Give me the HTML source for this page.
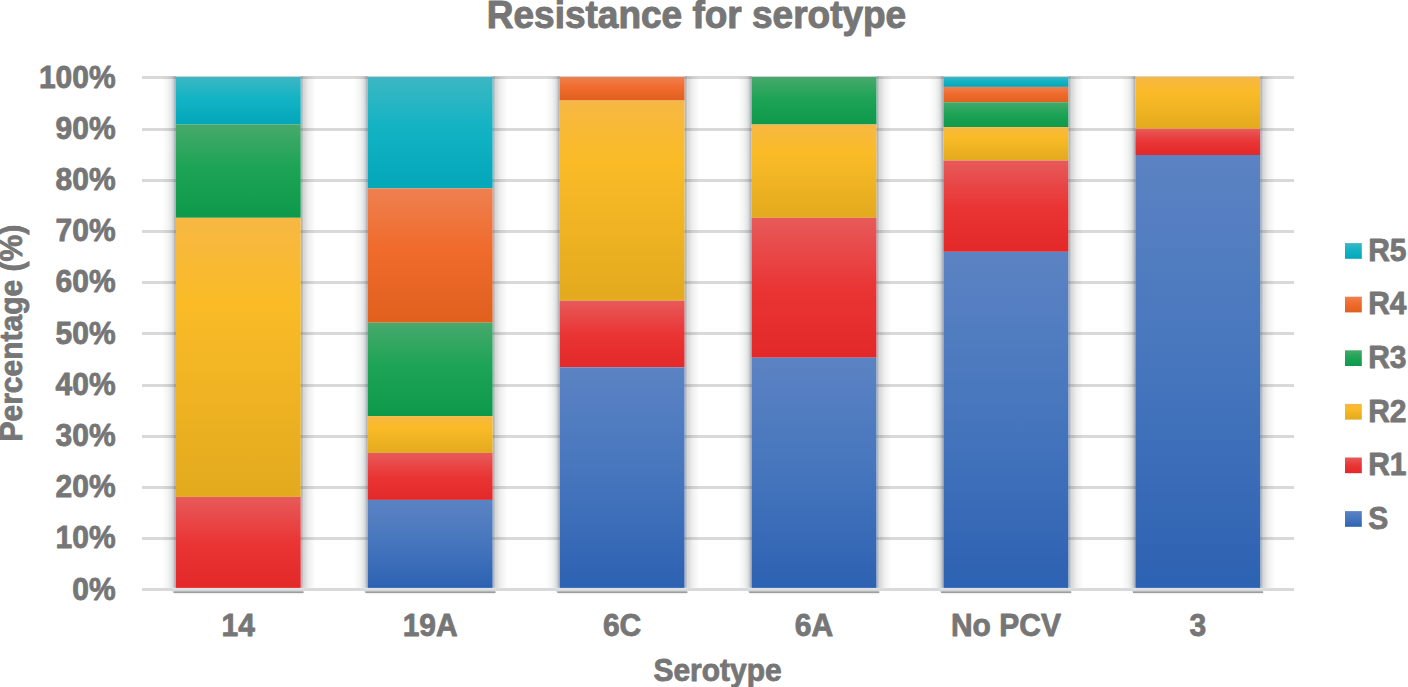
<!DOCTYPE html>
<html><head><meta charset="utf-8"><style>
html,body{margin:0;padding:0;background:#fff;}
body{width:1408px;height:687px;overflow:hidden;position:relative;}
svg{position:absolute;left:0;top:0;}
text{font-family:"Liberation Sans",sans-serif;font-weight:bold;fill:#767676;stroke:#767676;stroke-width:0.8px;stroke-linejoin:round;}
</style></head><body>
<svg width="1408" height="687" viewBox="0 0 1408 687">
<defs>
<linearGradient id="gR5" x1="0" y1="0" x2="0" y2="1"><stop offset="0" stop-color="#3cb7c3"/><stop offset="0.45" stop-color="#13b3c4"/><stop offset="1" stop-color="#02a7b9"/></linearGradient>
<linearGradient id="gR4" x1="0" y1="0" x2="0" y2="1"><stop offset="0" stop-color="#ee8050"/><stop offset="0.45" stop-color="#f06b2c"/><stop offset="1" stop-color="#e0601e"/></linearGradient>
<linearGradient id="gR3" x1="0" y1="0" x2="0" y2="1"><stop offset="0" stop-color="#47a96c"/><stop offset="0.45" stop-color="#1ea456"/><stop offset="1" stop-color="#0e994a"/></linearGradient>
<linearGradient id="gR2" x1="0" y1="0" x2="0" y2="1"><stop offset="0" stop-color="#f7b844"/><stop offset="0.3" stop-color="#fabb27"/><stop offset="1" stop-color="#e3aa1e"/></linearGradient>
<linearGradient id="gR1" x1="0" y1="0" x2="0" y2="1"><stop offset="0" stop-color="#e75a5a"/><stop offset="0.5" stop-color="#ea3535"/><stop offset="1" stop-color="#e32828"/></linearGradient>
<linearGradient id="gS" x1="0" y1="0" x2="0" y2="1"><stop offset="0" stop-color="#5b83c3"/><stop offset="0.45" stop-color="#4877be"/><stop offset="1" stop-color="#2d62b2"/></linearGradient>
<linearGradient id="shL" x1="0" y1="0" x2="1" y2="0"><stop offset="0" stop-color="#202830" stop-opacity="0"/><stop offset="0.43" stop-color="#202830" stop-opacity="0.05"/><stop offset="0.68" stop-color="#202830" stop-opacity="0.12"/><stop offset="0.83" stop-color="#302830" stop-opacity="0.22"/><stop offset="0.9" stop-color="#283648" stop-opacity="0.34"/><stop offset="1" stop-color="#283648" stop-opacity="0.40"/></linearGradient>
<linearGradient id="shR" x1="0" y1="0" x2="1" y2="0"><stop offset="0" stop-color="#405468" stop-opacity="0.45"/><stop offset="0.1" stop-color="#484c50" stop-opacity="0.38"/><stop offset="0.2" stop-color="#405868" stop-opacity="0.22"/><stop offset="0.3" stop-color="#000" stop-opacity="0.13"/><stop offset="0.55" stop-color="#000" stop-opacity="0.06"/><stop offset="1" stop-color="#000" stop-opacity="0"/></linearGradient>
<linearGradient id="band" x1="0" y1="0" x2="0" y2="1"><stop offset="0" stop-color="#e2e2e4"/><stop offset="0.5" stop-color="#dcdede"/><stop offset="1" stop-color="#c2c9ce"/></linearGradient>
<linearGradient id="bsh" x1="0" y1="0" x2="0" y2="1"><stop offset="0" stop-color="#000" stop-opacity="0.30"/><stop offset="0.35" stop-color="#000" stop-opacity="0.42"/><stop offset="1" stop-color="#000" stop-opacity="0"/></linearGradient>
</defs>
<rect x="142" y="588" width="1152" height="3" fill="#d9d9d9"/>
<rect x="142" y="537" width="1152" height="3" fill="#d9d9d9"/>
<rect x="142" y="486" width="1152" height="3" fill="#d9d9d9"/>
<rect x="142" y="435" width="1152" height="3" fill="#d9d9d9"/>
<rect x="142" y="384" width="1152" height="3" fill="#d9d9d9"/>
<rect x="142" y="332" width="1152" height="3" fill="#d9d9d9"/>
<rect x="142" y="281" width="1152" height="3" fill="#d9d9d9"/>
<rect x="142" y="230" width="1152" height="3" fill="#d9d9d9"/>
<rect x="142" y="179" width="1152" height="3" fill="#d9d9d9"/>
<rect x="142" y="128" width="1152" height="3" fill="#d9d9d9"/>
<rect x="142" y="76" width="1152" height="3" fill="#d9d9d9"/>
<rect x="161.90" y="76.30" width="14" height="511.60" fill="url(#shL)"/>
<rect x="300.70" y="76.30" width="15" height="511.60" fill="url(#shR)"/>
<rect x="172.40" y="587.90" width="131.30" height="3.9" fill="url(#band)"/>
<rect x="173.40" y="591.60" width="130.30" height="2.2" fill="url(#bsh)" rx="1"/>
<rect x="175.90" y="76.90" width="124.80" height="47.40" fill="url(#gR5)"/>
<rect x="175.90" y="124.30" width="124.80" height="93.50" fill="url(#gR3)"/>
<rect x="175.90" y="217.80" width="124.80" height="279.10" fill="url(#gR2)"/>
<rect x="175.90" y="496.90" width="124.80" height="91.00" fill="url(#gR1)"/>
<text transform="translate(238.30,635.6) scale(1,1.045)" font-size="30" text-anchor="middle">14</text>
<rect x="353.80" y="76.30" width="14" height="511.60" fill="url(#shL)"/>
<rect x="492.60" y="76.30" width="15" height="511.60" fill="url(#shR)"/>
<rect x="364.30" y="587.90" width="131.30" height="3.9" fill="url(#band)"/>
<rect x="365.30" y="591.60" width="130.30" height="2.2" fill="url(#bsh)" rx="1"/>
<rect x="367.80" y="76.90" width="124.80" height="111.50" fill="url(#gR5)"/>
<rect x="367.80" y="188.40" width="124.80" height="134.30" fill="url(#gR4)"/>
<rect x="367.80" y="322.70" width="124.80" height="93.40" fill="url(#gR3)"/>
<rect x="367.80" y="416.10" width="124.80" height="36.80" fill="url(#gR2)"/>
<rect x="367.80" y="452.90" width="124.80" height="47.00" fill="url(#gR1)"/>
<rect x="367.80" y="499.90" width="124.80" height="88.00" fill="url(#gS)"/>
<text transform="translate(430.20,635.6) scale(1,1.045)" font-size="30" text-anchor="middle">19A</text>
<rect x="545.70" y="76.30" width="14" height="511.60" fill="url(#shL)"/>
<rect x="684.50" y="76.30" width="15" height="511.60" fill="url(#shR)"/>
<rect x="556.20" y="587.90" width="131.30" height="3.9" fill="url(#band)"/>
<rect x="557.20" y="591.60" width="130.30" height="2.2" fill="url(#bsh)" rx="1"/>
<rect x="559.70" y="76.90" width="124.80" height="23.70" fill="url(#gR4)"/>
<rect x="559.70" y="100.60" width="124.80" height="200.10" fill="url(#gR2)"/>
<rect x="559.70" y="300.70" width="124.80" height="66.60" fill="url(#gR1)"/>
<rect x="559.70" y="367.30" width="124.80" height="220.60" fill="url(#gS)"/>
<text transform="translate(622.10,635.6) scale(1,1.045)" font-size="30" text-anchor="middle">6C</text>
<rect x="737.60" y="76.30" width="14" height="511.60" fill="url(#shL)"/>
<rect x="876.40" y="76.30" width="15" height="511.60" fill="url(#shR)"/>
<rect x="748.10" y="587.90" width="131.30" height="3.9" fill="url(#band)"/>
<rect x="749.10" y="591.60" width="130.30" height="2.2" fill="url(#bsh)" rx="1"/>
<rect x="751.60" y="76.90" width="124.80" height="47.60" fill="url(#gR3)"/>
<rect x="751.60" y="124.50" width="124.80" height="93.30" fill="url(#gR2)"/>
<rect x="751.60" y="217.80" width="124.80" height="139.90" fill="url(#gR1)"/>
<rect x="751.60" y="357.70" width="124.80" height="230.20" fill="url(#gS)"/>
<text transform="translate(814.00,635.6) scale(1,1.045)" font-size="30" text-anchor="middle">6A</text>
<rect x="929.50" y="76.30" width="14" height="511.60" fill="url(#shL)"/>
<rect x="1068.30" y="76.30" width="15" height="511.60" fill="url(#shR)"/>
<rect x="940.00" y="587.90" width="131.30" height="3.9" fill="url(#band)"/>
<rect x="941.00" y="591.60" width="130.30" height="2.2" fill="url(#bsh)" rx="1"/>
<rect x="943.50" y="76.90" width="124.80" height="10.00" fill="url(#gR5)"/>
<rect x="943.50" y="86.90" width="124.80" height="15.30" fill="url(#gR4)"/>
<rect x="943.50" y="102.20" width="124.80" height="24.90" fill="url(#gR3)"/>
<rect x="943.50" y="127.10" width="124.80" height="33.40" fill="url(#gR2)"/>
<rect x="943.50" y="160.50" width="124.80" height="91.30" fill="url(#gR1)"/>
<rect x="943.50" y="251.80" width="124.80" height="336.10" fill="url(#gS)"/>
<text transform="translate(1005.90,635.6) scale(1,1.045)" font-size="30" text-anchor="middle">No PCV</text>
<rect x="1121.40" y="76.30" width="14" height="511.60" fill="url(#shL)"/>
<rect x="1260.20" y="76.30" width="15" height="511.60" fill="url(#shR)"/>
<rect x="1131.90" y="587.90" width="131.30" height="3.9" fill="url(#band)"/>
<rect x="1132.90" y="591.60" width="130.30" height="2.2" fill="url(#bsh)" rx="1"/>
<rect x="1135.40" y="76.90" width="124.80" height="51.90" fill="url(#gR2)"/>
<rect x="1135.40" y="128.80" width="124.80" height="26.20" fill="url(#gR1)"/>
<rect x="1135.40" y="155.00" width="124.80" height="432.90" fill="url(#gS)"/>
<text transform="translate(1197.80,635.6) scale(1,1.045)" font-size="30" text-anchor="middle">3</text>
<text transform="translate(115.6,599.70) scale(1,1.045)" font-size="30" text-anchor="end">0%</text>
<text transform="translate(115.6,548.48) scale(1,1.045)" font-size="30" text-anchor="end">10%</text>
<text transform="translate(115.6,497.26) scale(1,1.045)" font-size="30" text-anchor="end">20%</text>
<text transform="translate(115.6,446.04) scale(1,1.045)" font-size="30" text-anchor="end">30%</text>
<text transform="translate(115.6,394.82) scale(1,1.045)" font-size="30" text-anchor="end">40%</text>
<text transform="translate(115.6,343.60) scale(1,1.045)" font-size="30" text-anchor="end">50%</text>
<text transform="translate(115.6,292.38) scale(1,1.045)" font-size="30" text-anchor="end">60%</text>
<text transform="translate(115.6,241.16) scale(1,1.045)" font-size="30" text-anchor="end">70%</text>
<text transform="translate(115.6,189.94) scale(1,1.045)" font-size="30" text-anchor="end">80%</text>
<text transform="translate(115.6,138.72) scale(1,1.045)" font-size="30" text-anchor="end">90%</text>
<text transform="translate(115.6,87.50) scale(1,1.045)" font-size="30" text-anchor="end">100%</text>
<text transform="translate(696.5,28) scale(1,1.03)" font-size="37" text-anchor="middle" style="stroke-width:1px">Resistance for serotype</text>
<text transform="translate(717.6,681.0) scale(1,1.045)" font-size="30" text-anchor="middle">Serotype</text>
<text transform="translate(22.2,333.2) rotate(-90) scale(1,1.045)" font-size="30" text-anchor="middle">Percentage (%)</text>
<rect x="1345" y="243.10" width="16.8" height="15.7" fill="url(#gR5)"/>
<text transform="translate(1368.2,260.70) scale(1,1.045)" font-size="30">R5</text>
<rect x="1345" y="296.70" width="16.8" height="15.7" fill="url(#gR4)"/>
<text transform="translate(1368.2,314.30) scale(1,1.045)" font-size="30">R4</text>
<rect x="1345" y="350.30" width="16.8" height="15.7" fill="url(#gR3)"/>
<text transform="translate(1368.2,367.90) scale(1,1.045)" font-size="30">R3</text>
<rect x="1345" y="403.90" width="16.8" height="15.7" fill="url(#gR2)"/>
<text transform="translate(1368.2,421.50) scale(1,1.045)" font-size="30">R2</text>
<rect x="1345" y="457.50" width="16.8" height="15.7" fill="url(#gR1)"/>
<text transform="translate(1368.2,475.10) scale(1,1.045)" font-size="30">R1</text>
<rect x="1345" y="511.10" width="16.8" height="15.7" fill="url(#gS)"/>
<text transform="translate(1368.2,528.70) scale(1,1.045)" font-size="30">S</text>
</svg></body></html>
